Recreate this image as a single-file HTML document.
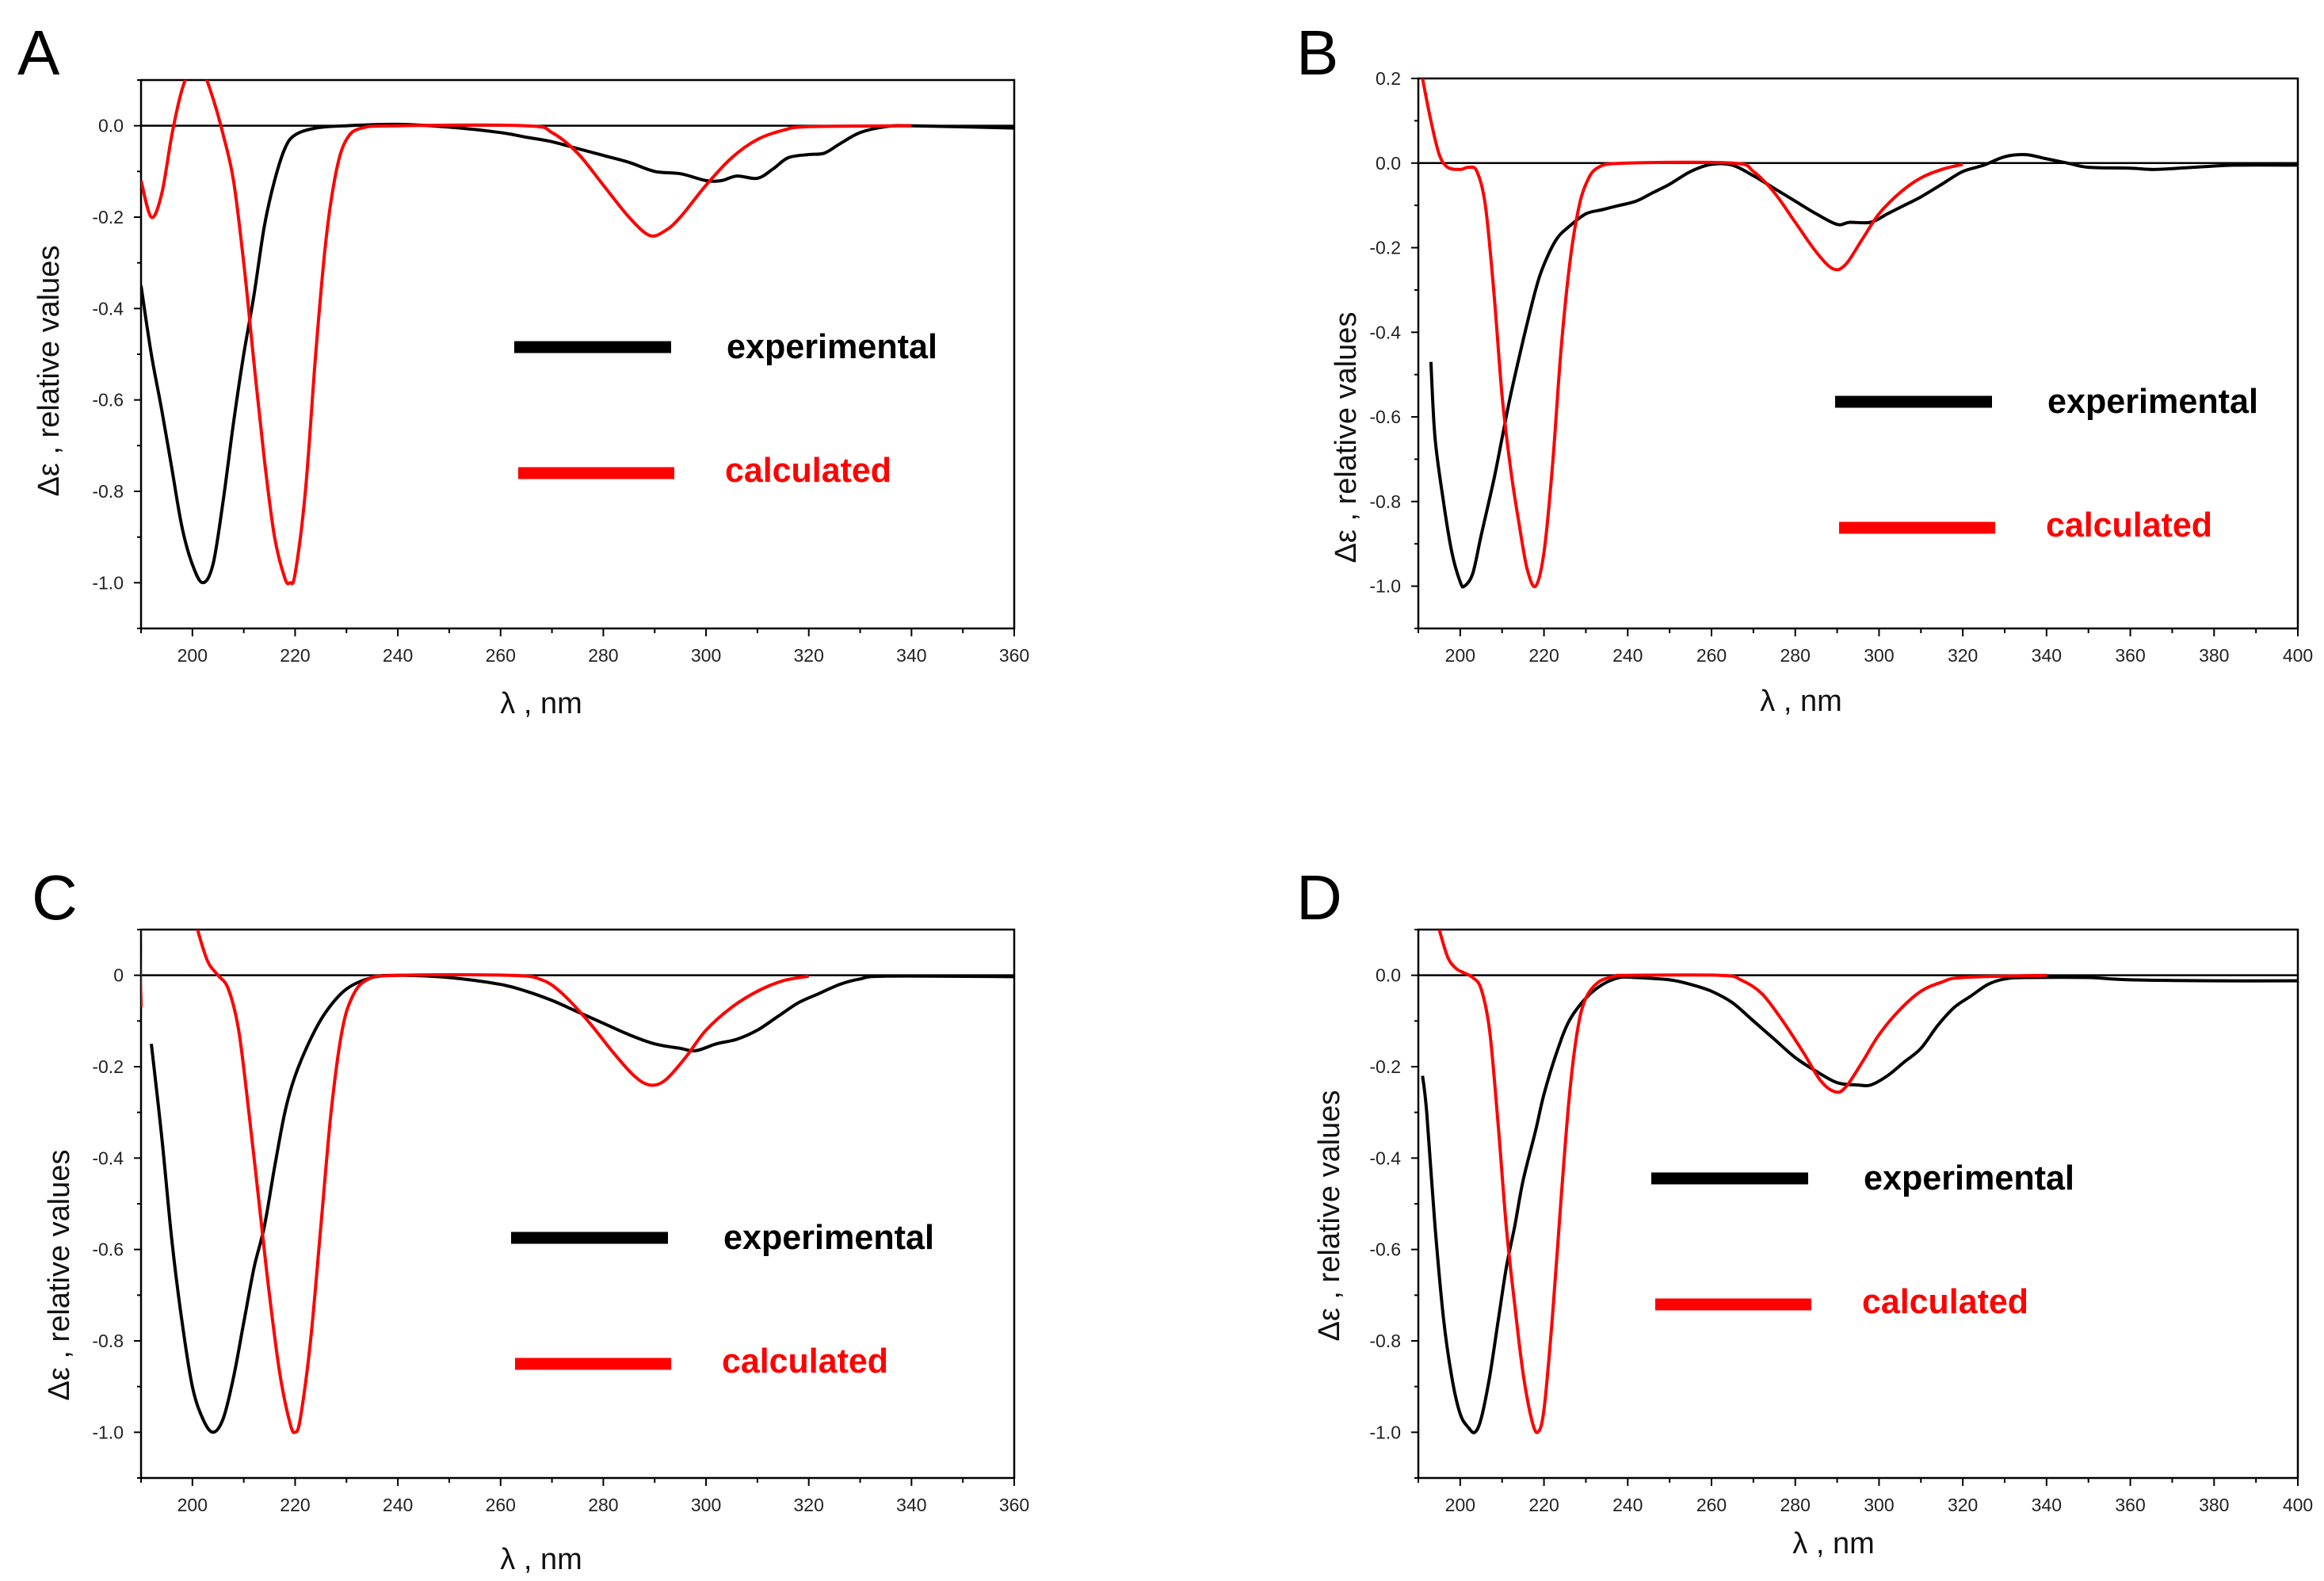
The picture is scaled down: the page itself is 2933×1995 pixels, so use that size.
<!DOCTYPE html>
<html><head><meta charset="utf-8">
<style>
html,body{margin:0;padding:0;background:#fff;}
svg{display:block;}
text{font-family:"Liberation Sans",Arial,sans-serif;}
</style></head>
<body>
<svg id="fig" width="2933" height="1995" viewBox="0 0 2933 1995" xmlns="http://www.w3.org/2000/svg"></svg>
<script>
// ---- Panel A data ----
const aExpX = [190,192,194,196,198,200,202,204,206,208,210,212,214,216,218,220,224,230,240,250,260,265,270,275,280,285,290,295,300,303,306,310,313,316,320,323,326,330,335,340,360];
const aExpY = [-0.35,-0.5,-0.62,-0.75,-0.88,-0.96,-1.0,-0.96,-0.82,-0.65,-0.5,-0.37,-0.22,-0.12,-0.05,-0.02,-0.005,0,0.003,-0.003,-0.015,-0.025,-0.035,-0.05,-0.065,-0.08,-0.1,-0.105,-0.12,-0.12,-0.11,-0.115,-0.095,-0.07,-0.063,-0.06,-0.04,-0.015,-0.002,0,-0.005];
const aCalX = [190,192,194,196,198,200,202,204,206,208,210,212,214,216,218,219,220,222,224,226,228,230,233,240,265,270,275,280,285,289,292,295,300,305,310,315,320,340];
const aCalY = [-0.12,-0.2,-0.15,-0.02,0.08,0.13,0.12,0.06,-0.02,-0.12,-0.3,-0.52,-0.73,-0.9,-0.99,-1.0,-0.98,-0.8,-0.5,-0.25,-0.1,-0.03,-0.005,0,0,-0.015,-0.06,-0.13,-0.2,-0.24,-0.23,-0.2,-0.13,-0.07,-0.03,-0.01,-0.002,0];
// ---- Panel B data ----
const bExpX = [193,194,196,198,200,201,203,205,208,210,212,215,218,220,223,226,230,234,238,242,246,250,255,260,265,270,275,280,285,290,293,298,302,306,310,315,320,325,330,335,340,345,350,360,366,375,385,400];
const bExpY = [-0.47,-0.65,-0.8,-0.92,-0.99,-1.0,-0.97,-0.88,-0.75,-0.65,-0.55,-0.42,-0.3,-0.24,-0.18,-0.15,-0.12,-0.11,-0.1,-0.09,-0.07,-0.05,-0.02,-0.003,-0.005,-0.03,-0.06,-0.09,-0.12,-0.145,-0.14,-0.14,-0.12,-0.1,-0.08,-0.05,-0.02,-0.005,0.015,0.02,0.01,0,-0.01,-0.012,-0.015,-0.01,-0.005,-0.005];
const bCalX = [191,193,195,197,200,202,204,206,208,210,212,214,216,218,220,222,224,226,228,230,233,240,265,270,275,280,285,289,292,296,300,305,310,315,320];
const bCalY = [0.2,0.1,0.02,-0.01,-0.015,-0.01,-0.02,-0.1,-0.3,-0.55,-0.72,-0.85,-0.96,-1.0,-0.92,-0.72,-0.45,-0.25,-0.12,-0.05,-0.01,0,0,-0.02,-0.07,-0.14,-0.21,-0.25,-0.24,-0.18,-0.12,-0.07,-0.035,-0.015,-0.003];
// ---- Panel C data ----
const cExpX = [192,194,196,198,200,202,204,206,208,210,212,214,216,218,220,223,226,230,235,240,250,260,265,270,275,280,285,290,295,298,302,306,310,314,318,322,326,330,335,360];
const cExpY = [-0.15,-0.35,-0.58,-0.76,-0.9,-0.97,-1.0,-0.97,-0.88,-0.76,-0.64,-0.55,-0.42,-0.3,-0.22,-0.14,-0.08,-0.03,-0.005,0,-0.005,-0.02,-0.035,-0.055,-0.08,-0.105,-0.13,-0.15,-0.16,-0.165,-0.15,-0.14,-0.12,-0.09,-0.06,-0.04,-0.02,-0.008,-0.002,-0.003];
const cCalX = [190,190.6,200,201,203,205,207,209,211,213,215,217,219,220,221,223,225,227,229,231,234,240,262,268,272,277,282,286,289,292,296,300,305,310,315,320];
const cCalY = [-0.07,0.15,0.15,0.1,0.03,0,-0.03,-0.12,-0.3,-0.5,-0.7,-0.87,-0.98,-1.0,-0.97,-0.8,-0.55,-0.3,-0.13,-0.05,-0.01,0,0,-0.01,-0.04,-0.1,-0.17,-0.22,-0.24,-0.23,-0.18,-0.12,-0.07,-0.035,-0.012,-0.002];
// ---- Panel D data ----
const dExpX = [191,192,194,196,198,200,202,203.5,205,207,209,211,213,215,218,220,223,226,230,234,238,242,250,255,260,265,270,275,280,285,290,295,298,302,306,310,314,318,322,326,330,335,350,360,380,400];
const dExpY = [-0.22,-0.3,-0.55,-0.75,-0.88,-0.96,-0.99,-1.0,-0.97,-0.88,-0.76,-0.64,-0.55,-0.45,-0.34,-0.26,-0.17,-0.1,-0.05,-0.02,-0.005,-0.005,-0.01,-0.02,-0.035,-0.06,-0.1,-0.14,-0.18,-0.21,-0.235,-0.24,-0.24,-0.22,-0.19,-0.16,-0.11,-0.07,-0.045,-0.02,-0.008,-0.005,-0.005,-0.01,-0.012,-0.012];
const dCalX = [195,197,199,201,203,205,207,209,211,213,215,217,218.5,220,222,224,226,228,230,233,237,240,262,267,272,277,282,286,289.5,292,296,300,305,310,315,320,340];
const dCalY = [0.1,0.04,0.015,0.005,-0.005,-0.03,-0.12,-0.32,-0.55,-0.72,-0.87,-0.97,-1.0,-0.95,-0.75,-0.5,-0.27,-0.12,-0.05,-0.015,-0.002,0,0,-0.01,-0.04,-0.1,-0.17,-0.23,-0.255,-0.245,-0.19,-0.13,-0.075,-0.035,-0.015,-0.005,0];
// ---- Axis tick labels ----
const yTicksDec = [0.0,-0.2,-0.4,-0.6,-0.8,-1.0];
const yTicksDecB = [0.2,0.0,-0.2,-0.4,-0.6,-0.8,-1.0];
const yLabelsC = ["0","-0.2","-0.4","-0.6","-0.8","-1.0"];
const xTicksShort = [200,220,240,260,280,300,320,340,360];
const xTicksLong = [200,220,240,260,280,300,320,340,360,380,400];

const NS = "http://www.w3.org/2000/svg";
const svg = document.getElementById('fig');
function mk(tag, attrs, parent){
  const e = document.createElementNS(NS, tag);
  for (const k in attrs) e.setAttribute(k, attrs[k]);
  (parent||svg).appendChild(e);
  return e;
}
function smoothPath(pts){
  if (pts.length < 2) return '';
  let d = 'M' + pts[0][0].toFixed(1) + ',' + pts[0][1].toFixed(1);
  for (let i = 0; i < pts.length - 1; i++){
    const p0 = pts[i-1] || pts[i], p1 = pts[i], p2 = pts[i+1], p3 = pts[i+2] || p2;
    const c1x = p1[0] + (p2[0]-p0[0])/6, c1y = p1[1] + (p2[1]-p0[1])/6;
    const c2x = p2[0] - (p3[0]-p1[0])/6, c2y = p2[1] - (p3[1]-p1[1])/6;
    d += 'C' + c1x.toFixed(1)+','+c1y.toFixed(1)+' '+c2x.toFixed(1)+','+c2y.toFixed(1)+' '+p2[0].toFixed(1)+','+p2[1].toFixed(1);
  }
  return d;
}
let clipN = 0;
function panel(p){
  const g = mk('g', {});
  
  
  const sx = v => p.L + (v - p.x0) / (p.x1 - p.x0) * (p.R - p.L);
  const sy = v => p.T + (p.y1 - v) / (p.y1 - p.y0) * (p.B - p.T);
  const lt = mk('text', {x:p.lx, y:p.ly, 'font-size':80, fill:'#000'}, g);
  lt.textContent = p.id;
  
  
  const fr = mk('rect', {x:p.L, y:p.T, width:p.R-p.L, height:p.B-p.T, fill:'none', stroke:'#000', 'stroke-width':2.5}, g);
  
  
  const zl = mk('line', {x1:p.L, x2:p.R, y1:sy(0), y2:sy(0), stroke:'#000', 'stroke-width':2.5}, g);
  
  
  for (let v = Math.round(p.y0*10); v <= Math.round(p.y1*10); v++){
    const y = sy(v/10);
    const major = (v % 2 === 0);
    mk('line', {x1:p.L - (major?9:5), x2:p.L, y1:y, y2:y, stroke:'#000', 'stroke-width':2}, g);
  }
  p.yt.forEach((v,i) => {
    const t = mk('text', {x:p.L - 22, y:sy(v)+8, 'font-size':23, 'text-anchor':'end', fill:'#222'}, g);
    t.textContent = p.yl ? p.yl[i] : v.toFixed(1);
    
    
  });
  for (let v = p.x0; v <= p.x1; v += 10){
    const x = sx(v);
    const major = (v % 20 === 0);
    mk('line', {x1:x, x2:x, y1:p.B, y2:p.B + (major?10:6), stroke:'#000', 'stroke-width':2}, g);
  }
  p.xt.forEach(v => {
    const t = mk('text', {x:sx(v), y:p.B + 42, 'font-size':23, 'text-anchor':'middle', fill:'#222'}, g);
    t.textContent = String(v);
    
    
  });
  const xt = mk('text', {x:p.xtx, y:p.xty, 'font-size':38, 'text-anchor':'middle', fill:'#111'}, g);
  xt.textContent = 'λ  ,  nm';
  
  
  const yt = mk('text', {x:0, y:0, 'font-size':38, 'text-anchor':'middle', fill:'#111', transform:`translate(${p.ytx},${p.yty}) rotate(-90)`}, g);
  yt.textContent = 'Δε  ,  relative values';
  
  
  const cid = 'clip' + (clipN++);
  const cp = mk('clipPath', {id:cid}, g);
  mk('rect', {x:p.L, y:p.T, width:p.R-p.L, height:p.B-p.T}, cp);
  function series(xs, ys, color, name){
    const pts = xs.map((x,i) => [sx(x), sy(ys[i])]);
    const path = mk('path', {d:smoothPath(pts), fill:'none', stroke:color, 'stroke-width':4, 'stroke-linejoin':'round', 'clip-path':`url(#${cid})`}, g);
    
    
  }
  series(p.ex, p.ey, '#000', 'experimental-curve');
  series(p.cx, p.cy, '#ff0000', 'calculated-curve');
  const l1 = mk('line', {x1:p.lg[0], x2:p.lg[0]+198, y1:p.lg[1], y2:p.lg[1], stroke:'#000', 'stroke-width':15}, g);
  
  
  const t1 = mk('text', {x:p.lg[0]+268, y:p.lg[1]+14, 'font-size':44, 'font-weight':'bold', fill:'#000', textLength:266, lengthAdjust:'spacingAndGlyphs'}, g);
  t1.textContent = 'experimental';
  
  
  const l2 = mk('line', {x1:p.lg[0]+5, x2:p.lg[0]+202, y1:p.lg[1]+159, y2:p.lg[1]+159, stroke:'#ff0000', 'stroke-width':15}, g);
  
  
  const t2 = mk('text', {x:p.lg[0]+266, y:p.lg[1]+170, 'font-size':44, 'font-weight':'bold', fill:'#ff0000', textLength:210, lengthAdjust:'spacingAndGlyphs'}, g);
  t2.textContent = 'calculated';
  
  
}
panel({id:'A', lx:22, ly:94, L:178, R:1280, T:101, B:793, x0:190, x1:360, y0:-1.1, y1:0.1,
  yt:yTicksDec, xt:xTicksShort, ex:aExpX, ey:aExpY, cx:aCalX, cy:aCalY,
  xtx:683, xty:900, ytx:74, yty:468, lg:[649,438]});
panel({id:'B', lx:1636, ly:94, L:1790, R:2900, T:99, B:793, x0:190, x1:400, y0:-1.1, y1:0.2,
  yt:yTicksDecB, xt:xTicksLong, ex:bExpX, ey:bExpY, cx:bCalX, cy:bCalY,
  xtx:2273, xty:897, ytx:1711, yty:552, lg:[2316,507]});
panel({id:'C', lx:40, ly:1160, L:178, R:1280, T:1173, B:1865, x0:190, x1:360, y0:-1.1, y1:0.1,
  yt:yTicksDec, yl:yLabelsC, xt:xTicksShort, ex:cExpX, ey:cExpY, cx:cCalX, cy:cCalY,
  xtx:683, xty:1980, ytx:87, yty:1609, lg:[645,1562]});
panel({id:'D', lx:1636, ly:1160, L:1790, R:2900, T:1173, B:1865, x0:190, x1:400, y0:-1.1, y1:0.1,
  yt:yTicksDec, xt:xTicksLong, ex:dExpX, ey:dExpY, cx:dCalX, cy:dCalY,
  xtx:2314, xty:1960, ytx:1690, yty:1534, lg:[2084,1487]});
</script>
</body></html>
